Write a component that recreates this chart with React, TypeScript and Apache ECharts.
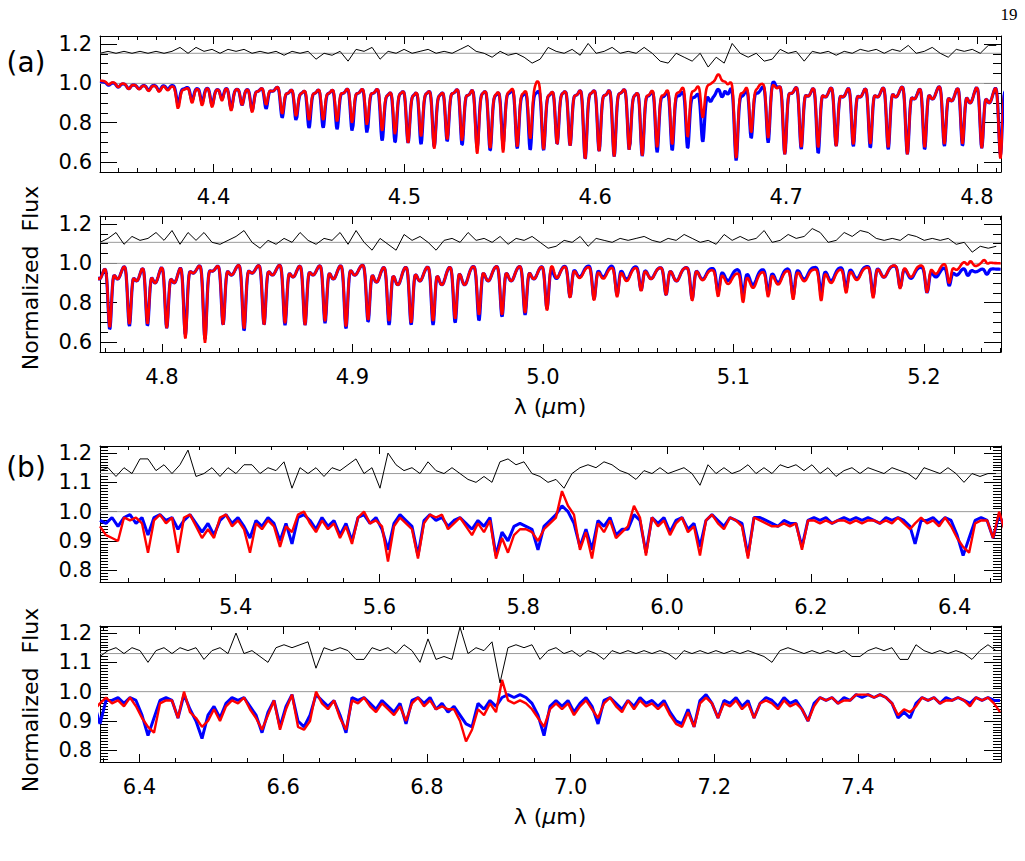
import { useEffect, useRef } from "react";
import * as echarts from "echarts";

const FONT = "DejaVu Sans";

// Wavelength (µm) and flux windows of the four panels: (a) upper/lower, (b) upper/lower
const xRanges: [number, number][] = [
  [4.3405, 4.8126],
  [4.7675, 5.2404],
  [5.2113, 6.4645],
  [6.345, 7.599],
];
const yRanges: [number, number][] = [
  [0.549, 1.241],
  [0.549, 1.241],
  [0.76, 1.224],
  [0.76, 1.224],
];
const xMajorTicks = [
  [4.4, 4.5, 4.6, 4.7, 4.8],
  [4.8, 4.9, 5.0, 5.1, 5.2],
  [5.4, 5.6, 5.8, 6.0, 6.2, 6.4],
  [6.4, 6.6, 6.8, 7.0, 7.2, 7.4],
];
const xMinorSteps = [0.01, 0.01, 0.05, 0.05];
const yMajorTicksCO = [0.6, 0.8, 1.0, 1.2];
const yMajorTicksH2O = [0.8, 0.9, 1.0, 1.1, 1.2];
const yMinorSteps = [0.05, 0.05, 0.01, 0.01];
const residualOffsets = [1.153, 1.107, 1.13, 1.13];

// CO fundamental lines: [centre µm, blue minimum, red minimum, shoulder depth]
const coLines: [number, number, number, number][] = [
  [4.345, 0.985, 0.985, 0], [4.35, 0.98, 0.978, 0], [4.3555, 0.978, 0.975, 0],
  [4.361, 0.982, 0.98, 0], [4.366, 0.975, 0.972, 0], [4.3715, 0.972, 0.97, 0],
  [4.376, 0.98, 0.978, 0], [4.3814, 0.91, 0.89, 0.02], [4.3887, 0.93, 0.92, 0.02],
  [4.394, 0.92, 0.905, 0.02], [4.3992, 0.91, 0.9, 0.03], [4.4044, 0.94, 0.93, 0.02],
  [4.4092, 0.89, 0.88, 0.03], [4.4149, 0.91, 0.91, 0.03], [4.4202, 0.88, 0.87, 0.04],
  [4.4275, 0.88, 0.9, 0.04], [4.4359, 0.84, 0.86, 0.05], [4.4432, 0.83, 0.85, 0.05],
  [4.45, 0.79, 0.83, 0.05], [4.4574, 0.79, 0.83, 0.05], [4.4647, 0.78, 0.82, 0.05],
  [4.4726, 0.77, 0.81, 0.05], [4.4804, 0.76, 0.8, 0.05], [4.4883, 0.73, 0.78, 0.06],
  [4.4951, 0.72, 0.76, 0.05], [4.5019, 0.72, 0.72, 0.06], [4.5087, 0.71, 0.75, 0.05],
  [4.5156, 0.7, 0.69, 0.06], [4.5224, 0.72, 0.73, 0.05], [4.5302, 0.7, 0.72, 0.06],
  [4.5381, 0.69, 0.66, 0.05], [4.5449, 0.68, 0.69, 0.06], [4.5517, 0.71, 0.66, 0.05],
  [4.5591, 0.69, 0.69, 0.06], [4.5659, 0.68, 0.73, 0.05], [4.5729, 0.68, 0.68, 0.06],
  [4.58, 0.71, 0.71, 0.05], [4.5868, 0.7, 0.7, 0.06], [4.5947, 0.63, 0.63, 0.05],
  [4.602, 0.67, 0.67, 0.06], [4.6099, 0.64, 0.64, 0.05], [4.6178, 0.68, 0.68, 0.06],
  [4.6246, 0.65, 0.65, 0.06], [4.6324, 0.67, 0.69, 0.06], [4.6403, 0.68, 0.7, 0.05],
  [4.6484, 0.7, 0.73, 0.05], [4.6563, 0.75, 0.83, 0.03], [4.6605, 0.95, 0.99, 0],
  [4.6625, 0.97, 0.99, 0], [4.6665, 0.95, 0.99, 0], [4.6695, 0.96, 0.98, 0],
  [4.6738, 0.63, 0.62, 0.06], [4.6817, 0.73, 0.75, 0.06],
  [4.6906, 0.7, 0.72, 0.06], [4.6993, 0.64, 0.64, 0.06], [4.7079, 0.67, 0.68, 0.07],
  [4.7168, 0.65, 0.68, 0.07], [4.7262, 0.69, 0.69, 0.07], [4.7352, 0.69, 0.7, 0.07],
  [4.7441, 0.68, 0.7, 0.07], [4.7535, 0.67, 0.68, 0.07], [4.7635, 0.65, 0.65, 0.08],
  [4.7726, 0.67, 0.68, 0.08], [4.7829, 0.69, 0.7, 0.09], [4.7924, 0.69, 0.7, 0.1],
  [4.8025, 0.68, 0.68, 0.1], [4.8123, 0.64, 0.62, 0.05], [4.8226, 0.62, 0.6, 0.04],
  [4.8321, 0.69, 0.69, 0.06], [4.8431, 0.66, 0.67, 0.05], [4.8536, 0.69, 0.69, 0.06],
  [4.8646, 0.69, 0.7, 0.07], [4.8751, 0.69, 0.69, 0.06], [4.8856, 0.7, 0.71, 0.08],
  [4.8966, 0.67, 0.68, 0.06], [4.9082, 0.71, 0.72, 0.09], [4.9192, 0.7, 0.72, 0.1],
  [4.9308, 0.7, 0.71, 0.08], [4.9423, 0.7, 0.72, 0.1], [4.9539, 0.71, 0.73, 0.1],
  [4.9664, 0.72, 0.75, 0.08], [4.9785, 0.74, 0.75, 0.08], [4.9906, 0.75, 0.76, 0.07],
  [5.0021, 0.78, 0.77, 0.07], [5.0142, 0.84, 0.84, 0.06], [5.0268, 0.83, 0.83, 0.06],
  [5.0389, 0.85, 0.85, 0.07], [5.0515, 0.88, 0.88, 0.06], [5.0646, 0.86, 0.86, 0.07],
  [5.0783, 0.84, 0.83, 0.06], [5.0919, 0.88, 0.87, 0.06], [5.105, 0.87, 0.85, 0.08],
  [5.1182, 0.88, 0.87, 0.07], [5.1313, 0.86, 0.85, 0.06], [5.146, 0.87, 0.84, 0.07],
  [5.1591, 0.89, 0.88, 0.06], [5.1733, 0.85, 0.84, 0.06], [5.1875, 0.89, 0.88, 0.06],
  [5.2016, 0.87, 0.86, 0.05], [5.2132, 0.91, 0.9, 0.04], [5.223, 0.96, 0.96, 0.02],
  [5.233, 0.97, 0.97, 0],
];

// Continuum level of the 4.34–5.24 µm spectra, every 0.02 µm
const contStart = 4.34;
const contStep = 0.02;
const contBlue = [
  1.01, 0.99, 0.99, 1, 1, 1, 1, 1, 1, 1,
  1, 1, 1, 1, 1, 0.99, 0.97, 1, 1.01, 1,
  1, 1, 1, 1, 1, 1, 1, 1, 1, 0.99,
  0.99, 0.99, 0.99, 0.99, 0.99, 0.99, 0.98, 0.98, 0.97, 0.97,
  0.98, 0.98, 0.99, 0.98, 0.98, 0.97,
];
const contRed = [
  1.015, 0.99, 0.985, 1, 1, 1, 1, 1, 1, 1,
  1, 1.01, 1, 1, 1, 1, 1.02, 1.01, 1.01, 1,
  1, 1, 1, 1, 1, 1, 1, 1, 1, 0.99,
  0.99, 0.99, 0.99, 0.99, 0.985, 0.98, 0.98, 0.98, 0.95, 0.96,
  0.97, 0.97, 0.99, 0.99, 1.01, 1.0,
];
// Narrow excursions above the continuum: [centre µm, blue rise, red rise]
const coBumps: [number, number, number][] = [
  [4.5695, 0, 0.05], [4.6645, 0, 0.03], [4.686, 0.01, 0.035], [4.6935, 0.06, 0.04],
  [5.005, 0.01, 0.035], [5.2235, 0, 0.03], [5.2325, 0, 0.03],
];

// 5.2–7.6 µm spectra, depth below unity in hundredths, on two sampling grids
const h2oStartA = 5.2113;
const h2oStepA = 0.008345;
const h2oBlueA = [
  3, 4, 2, 5, 2, 1, 4, 2, 8, 2,
  1, 3, 2, 6, 3, 1, 4, 7, 4, 8,
  3, 1, 4, 2, 5, 9, 3, 5, 2, 4,
  10, 4, 11, 2, 1, 3, 6, 2, 5, 3,
  8, 4, 10, 2, 1, 4, 2, 6, 13, 4,
  1, 3, 5, 15, 3, 1, 3, 2, 5, 3,
  2, 4, 6, 3, 5, 2, 15, 7, 10, 5,
  4, 5, 6, 13, 5, 3, 1, -2, 0, 4,
  12, 6, 13, 3, 5, 2, 8, 6, 6, 1,
  3, 14, 2, 4, 2, 7, 3, 2, 6, 4,
  12, 3, 1, 3, 5, 2, 3, 4, 15, 2,
  2, 3, 4, 5, 3, 4, 4, 12, 3, 2,
  3, 2, 4, 3, 2, 3, 2, 3, 2, 3,
  4, 2, 3, 2, 3, 5,
];
const h2oRedA = [
  5, 8, 9, 10, 2, 3, 2, 4, 14, 3,
  1, 4, 2, 14, 2, 1, 5, 9, 6, 9,
  2, 1, 5, 3, 6, 14, 4, 6, 3, 5,
  12, 5, 7, 1, 0, 4, 7, 3, 6, 4,
  9, 5, 11, 2, 0, 4, 3, 5, 17, 5,
  2, 4, 6, 16, 4, 1, 2, 1, 6, 4,
  2, 5, 8, 4, 7, 3, 16, 9, 14, 8,
  6, 6, 7, 10, 6, 4, 2, -7, -2, 1,
  13, 7, 16, 4, 7, 3, 9, 7, 5, -2,
  2, 15, 2, 5, 3, 8, 4, 2, 7, 5,
  15, 3, 1, 4, 6, 2, 3, 5, 16, 2,
  3, 4, 5, 5, 4, 5, 4, 13, 3, 3,
  4, 3, 4, 3, 3, 4, 3, 4, 3, 3,
  4, 3, 4, 2, 4, 6,
];
const h2oStartB = 6.345;
const h2oStepB = 0.008351;
const h2oBlueB = [
  11, 3, 3, 2, 4, 2, 3, 8, 15, 9,
  3, 2, 3, 9, 1, 6, 10, 16, 8, 5,
  9, 4, 2, 3, 2, 5, 8, 14, 7, 3,
  12, 5, 1, 10, 12, 8, 1, 3, 5, 3,
  8, 14, 2, 3, 2, 4, 6, 3, 5, 7,
  4, 11, 3, 2, 4, 2, 6, 4, 7, 5,
  8, 11, 12, 4, 6, 3, 5, 2, 1, 2,
  1, 2, 4, 8, 15, 5, 3, 5, 3, 7,
  4, 2, 5, 11, 3, 2, 4, 6, 3, 5,
  2, 4, 3, 5, 3, 7, 10, 11, 6, 12,
  3, 1, 4, 9, 3, 4, 2, 5, 3, 9,
  4, 2, 3, 5, 2, 4, 3, 6, 10, 4,
  2, 3, 2, 4, 2, 3, 1, 2, 1, 2,
  1, 2, 4, 9, 7, 9, 4, 2, 3, 2,
  4, 2, 3, 2, 3, 4, 2, 3, 2, 3,
  3,
];
const h2oRedB = [
  4, 2, 4, 3, 5, 2, 5, 9, 12, 14,
  4, 3, 3, 9, 0, 7, 9, 12, 10, 6,
  10, 5, 3, 4, 2, 6, 9, 13, 8, 3,
  13, 6, 1, 12, 13, 10, 0, 4, 6, 3,
  9, 13, 3, 4, 2, 5, 7, 4, 6, 8,
  5, 10, 4, 2, 5, 3, 6, 5, 6, 6,
  10, 17, 13, 6, 8, 4, 7, -4, 3, 4,
  3, 4, 6, 9, 12, 6, 4, 6, 4, 8,
  5, 3, 6, 9, 4, 2, 5, 7, 3, 6,
  3, 5, 4, 6, 4, 8, 11, 12, 7, 12,
  4, 2, 4, 9, 4, 5, 3, 6, 4, 9,
  4, 3, 4, 6, 3, 5, 4, 6, 10, 5,
  2, 3, 2, 4, 3, 3, 1, 1, 1, 2,
  1, 2, 4, 8, 6, 7, 5, 2, 3, 2,
  4, 3, 3, 2, 3, 5, 2, 3, 2, 4,
  7,
];

// Residuals (hundredths, about each panel's offset), sampled from the panel's left edge
const residualSteps = [0.004193, 0.0042, 0.011127, 0.011134];
const residualA1 = [
  0, 1, 0, 1, 0, 1, 0, 1, 0, 1,
  3, 0, 3, 1, 2, 0, 2, 1, 2, 0,
  1, 0, 1, -1, 1, 0, 1, -3, 0, -1,
  1, -4, 2, 1, 3, -3, 1, 0, 2, 0,
  1, 2, 0, 1, 0, 2, 4, 1, 0, -2,
  1, -1, 0, -2, -5, -3, 3, 1, 0, 2,
  -1, 5, 0, 1, 3, 0, 1, 0, 3, 0,
  -4, -5, 0, -2, -4, 0, -7, -2, -5, 5,
  0, -2, 0, -4, -3, 2, 0, 1, -4, 1,
  0, 1, -1, 1, 0, 2, 1, 2, 0, 2,
  1, 4, 0, 1, 3, 0, -2, 2, 1, 2,
  0, 4, 4,
];
const residualA2 = [
  0, 2, 5, -1, 3, 1, 2, 5, 1, 6,
  -1, 5, 1, 5, 0, -1, 1, 3, 6, 0,
  -3, 1, -1, 2, 0, 5, 1, -1, 2, 1,
  5, -1, 6, 0, -4, 2, -1, -4, 4, 1,
  3, 0, -4, 1, 2, 0, 5, 1, 2, 0,
  3, -1, 2, 1, 3, 0, -3, -2, 1, 0,
  3, -2, 2, 1, 0, 2, 1, 2, 3, 1,
  0, 2, 1, 4, 2, 0, 1, -1, 4, 1,
  3, 1, 2, 6, 0, 1, 4, 2, 3, 7,
  5, 0, 1, 5, 3, 6, 5, 2, 1, 2,
  1, 4, 3, 1, 2, 1, 2, -1, 0, -5,
  -2, -3, -2,
];
const residualB1 = [
  1, 2, -1, 2, 0, 5, 5, 1, 3, 0,
  3, 8, -1, 0, 2, -1, 2, 0, 3, 3,
  0, 2, 1, 4, -5, 2, 0, 2, -1, 2,
  1, 3, 5, 0, 2, -5, 7, 3, 1, 2,
  0, 4, 1, 0, 2, 0, -2, -3, -1, -3,
  4, 5, 3, 4, 0, -1, -3, -2, -5, 0,
  2, 3, 2, 4, 3, 1, 0, -2, 1, 0,
  2, 0, 1, 2, 0, -4, 3, 0, 2, 0,
  1, 3, 0, 2, 0, 3, 2, 3, 1, 3,
  0, 2, -1, 1, 2, 0, 2, 1, 0, 2,
  1, 0, -2, 2, 1, 0, 2, 0, -3, 0,
  -1, 0, 0,
];
const residualB2 = [
  -1, 1, 2, 0, 2, 1, -3, 1, 2, 0,
  2, 1, 2, -2, 1, 2, 0, 7, 0, 1,
  -1, -3, 2, 3, 2, 3, 4, -5, 2, 1,
  2, 1, -2, -2, 2, 1, 2, 0, 3, 1,
  -3, 5, -2, -1, -2, 9, 0, 2, 1, 4,
  -10, 2, 3, 2, 3, -2, 1, 2, 0, 1,
  -1, 1, 0, -2, 1, 0, 1, 0, 1, 0,
  1, 0, -2, 1, 0, 1, 0, 1, 0, 1,
  0, 1, 0, -1, -3, 1, 2, 1, 0, 1,
  0, 1, 0, 1, -1, -1, 1, 2, 1, 2,
  -2, -2, 3, 1, 0, 1, 0, 1, 0, -2,
  1, 3, 1,
];
const residuals = [residualA1, residualA2, residualB1, residualB2];

// Plot frame layout
const GRID_LEFT = 100;
const GRID_WIDTH = 901;
const GRID_TOPS = [36, 216, 446, 626];
const GRID_HEIGHT = 136;

const CO_SAMPLE = 0.0003;
const CORE_SIGMA = 0.0009;
const SHOULDER_SIGMA = 0.0018;
const BUMP_SIGMA = 0.0012;

function tickRange(min: number, max: number, step: number): number[] {
  const out: number[] = [];
  const n0 = Math.ceil(min / step - 1e-6);
  const n1 = Math.floor(max / step + 1e-6);
  for (let n = n0; n <= n1; n++) out.push(+(n * step).toFixed(4));
  return out;
}

function continuum(lam: number, levels: number[]): number {
  const t = (lam - contStart) / contStep;
  const k = Math.max(0, Math.min(levels.length - 2, Math.floor(t)));
  const f = Math.min(1, Math.max(0, t - k));
  return levels[k] * (1 - f) + levels[k + 1] * f;
}

// Profile of the CO spectrum (which = 1 blue, 2 red) built from the line table
function coSpectrum(which: 1 | 2): number[][] {
  const levels = which === 1 ? contBlue : contRed;
  const lo = xRanges[0][0];
  const hi = xRanges[1][1];
  const n = Math.round((hi - lo) / CO_SAMPLE);
  const out: number[][] = [];
  for (let j = 0; j <= n; j++) {
    const lam = lo + j * CO_SAMPLE;
    let f = continuum(lam, levels);
    for (let i = 0; i < coLines.length; i++) {
      const line = coLines[i];
      const c = line[0];
      const d = lam - c;
      if (Math.abs(d) > 0.02) continue;
      f -= (1 - line[which]) * Math.exp(-0.5 * (d / CORE_SIGMA) ** 2);
      const s = line[3];
      if (s > 0) {
        const next = i + 1 < coLines.length ? coLines[i + 1][0] : c + 0.01;
        const sc = c + 0.4 * (next - c);
        f -= s * Math.exp(-0.5 * ((lam - sc) / SHOULDER_SIGMA) ** 2);
      }
    }
    for (const b of coBumps) {
      f += b[which] * Math.exp(-0.5 * ((lam - b[0]) / BUMP_SIGMA) ** 2);
    }
    out.push([lam, f]);
  }
  return out;
}

function sampled(start: number, step: number, depths: number[]): number[][] {
  return depths.map((v, i) => [start + i * step, 1 - v / 100]);
}

function buildOption() {
  const coBlue = coSpectrum(1);
  const coRed = coSpectrum(2);
  const h2oBlue = [...sampled(h2oStartA, h2oStepA, h2oBlueA), ...sampled(h2oStartB, h2oStepB, h2oBlueB)];
  const h2oRed = [...sampled(h2oStartA, h2oStepA, h2oRedA), ...sampled(h2oStartB, h2oStepB, h2oRedB)];

  const grids: any[] = [];
  const xAxes: any[] = [];
  const yAxes: any[] = [];
  const series: any[] = [];

  const black = { color: "#000", width: 1 };
  const axis = (
    p: number, position: string, range: [number, number], ticks: number[],
    len: number, labels: boolean, line: boolean, margin: number
  ) => ({
    gridIndex: p,
    type: "value",
    position,
    min: range[0],
    max: range[1],
    axisLine: { show: line, onZero: false, lineStyle: black },
    axisTick: { show: true, inside: true, length: len, customValues: ticks, lineStyle: black },
    axisLabel: labels
      ? {
          show: true, customValues: ticks, margin,
          formatter: (v: number) => v.toFixed(1),
          color: "#000", fontSize: 21, fontFamily: FONT,
        }
      : { show: false },
    splitLine: { show: false },
    minorTick: { show: false },
  });

  for (let p = 0; p < 4; p++) {
    grids.push({
      left: GRID_LEFT, width: GRID_WIDTH, top: GRID_TOPS[p], height: GRID_HEIGHT,
      containLabel: false, outerBoundsMode: "none",
    });
    const xr = xRanges[p];
    const yr = yRanges[p];
    const xMaj = xMajorTicks[p];
    const xMin = tickRange(xr[0], xr[1], xMinorSteps[p]);
    const yMaj = p < 2 ? yMajorTicksCO : yMajorTicksH2O;
    const yMin = tickRange(yr[0], yr[1], yMinorSteps[p]);

    xAxes.push(axis(p, "bottom", xr, xMaj, 8, true, true, 14));
    xAxes.push(axis(p, "bottom", xr, xMin, 4, false, false, 0));
    xAxes.push(axis(p, "top", xr, xMaj, 8, false, true, 0));
    xAxes.push(axis(p, "top", xr, xMin, 4, false, false, 0));
    yAxes.push(axis(p, "left", yr, yMaj, 17, true, true, 8));
    yAxes.push(axis(p, "left", yr, yMin, 8, false, false, 0));
    yAxes.push(axis(p, "right", yr, yMaj, 17, false, true, 0));
    yAxes.push(axis(p, "right", yr, yMin, 8, false, false, 0));

    const idx = { xAxisIndex: p * 4, yAxisIndex: p * 4 };
    const common = { type: "line", showSymbol: false, symbol: "none", silent: true, ...idx };
    series.push({
      ...common, name: "unity", data: [[xr[0], 1], [xr[1], 1]],
      lineStyle: { color: "#9a9a9a", width: 1 }, z: 1,
    });
    series.push({
      ...common, name: "offset", data: [[xr[0], residualOffsets[p]], [xr[1], residualOffsets[p]]],
      lineStyle: { color: "#9a9a9a", width: 1 }, z: 1,
    });
    const co = p < 2;
    series.push({
      ...common, name: "blue", data: co ? coBlue : h2oBlue,
      lineStyle: { color: "#0000ff", width: co ? 3.2 : 3 }, z: 2,
    });
    series.push({
      ...common, name: "red", data: co ? coRed : h2oRed,
      lineStyle: { color: "#ff0000", width: co ? 2.6 : 2.4 }, z: 3,
    });
    series.push({
      ...common, name: "residual",
      data: residuals[p].map((v, i) => [xr[0] + i * residualSteps[p], residualOffsets[p] + v / 100]),
      lineStyle: { color: "#000", width: 1 }, z: 4,
    });
  }

  const txt = (x: number, y: number, text: string, size: number, rotation = 0, family = FONT) => ({
    type: "text",
    x, y, rotation,
    silent: true,
    style: {
      text,
      fill: "#000",
      font: `${size}px "${family}"`,
      fontSize: size,
      fontFamily: family,
      textAlign: "center",
      textVerticalAlign: "middle",
      align: "center",
      verticalAlign: "middle",
    },
  });

  // Axis title with an italic mu
  const lambdaTitle = (x: number, y: number) => ({
    type: "text",
    x, y,
    silent: true,
    style: {
      text: "{n|λ (}{i|μ}{n|m)}",
      fill: "#000",
      fontSize: 22,
      fontFamily: FONT,
      textAlign: "center",
      textVerticalAlign: "middle",
      align: "center",
      verticalAlign: "middle",
      rich: {
        n: { fontSize: 22, fontFamily: FONT, fill: "#000", color: "#000" },
        i: { fontSize: 22, fontFamily: FONT, fontStyle: "italic", fill: "#000", color: "#000" },
      },
    },
  });

  const graphic = [
    txt(26, 62, "(a)", 28),
    txt(26, 467, "(b)", 28),
    txt(30, 278, "Normalized  Flux", 22, Math.PI / 2),
    txt(30, 700, "Normalized  Flux", 22, Math.PI / 2),
    lambdaTitle(550, 406),
    lambdaTitle(550, 816),
    txt(1009, 14, "19", 17, 0, "Liberation Serif"),
  ];

  return {
    animation: false,
    backgroundColor: "#fff",
    grid: grids,
    xAxis: xAxes,
    yAxis: yAxes,
    series,
    graphic,
  };
}

export default function App() {
  const ref = useRef<HTMLDivElement>(null);
  useEffect(() => {
    const chart = echarts.init(ref.current!, null, { renderer: "svg" });
    chart.setOption(buildOption() as any);
    return () => chart.dispose();
  }, []);
  return (
    <div
      ref={ref}
      style={{ position: "absolute", left: 0, top: 0, width: 1025, height: 861, background: "#fff" }}
    />
  );
}
